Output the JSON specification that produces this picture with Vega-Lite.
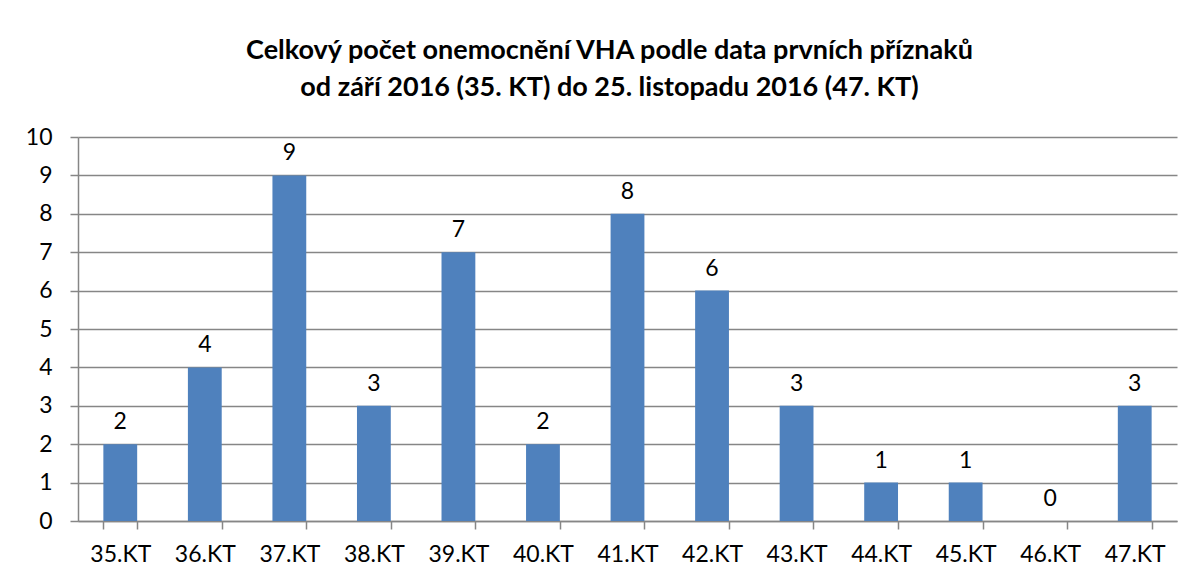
{
  "$schema": "https://vega.github.io/schema/vega-lite/v6.json",
  "autosize": "none",
  "width": 1099,
  "height": 384,
  "padding": {"left": 78, "top": 137, "right": 17, "bottom": 59},
  "background": "white",
  "title": {
    "text": ["Celkový počet onemocnění VHA podle data prvních příznaků", "od září 2016 (35. KT) do 25. listopadu 2016 (47. KT)"],
    "font": "Lato",
    "fontSize": 27,
    "fontWeight": "bold",
    "color": "#000000",
    "anchor": "middle",
    "lineHeight": 37,
    "offset": 24,
    "dx": -18
  },
  "config": {
    "view": {"stroke": null},
    "font": "Lato"
  },
  "data": {
    "values": [
      {"week": "35.KT", "count": 2},
      {"week": "36.KT", "count": 4},
      {"week": "37.KT", "count": 9},
      {"week": "38.KT", "count": 3},
      {"week": "39.KT", "count": 7},
      {"week": "40.KT", "count": 2},
      {"week": "41.KT", "count": 8},
      {"week": "42.KT", "count": 6},
      {"week": "43.KT", "count": 3},
      {"week": "44.KT", "count": 1},
      {"week": "45.KT", "count": 1},
      {"week": "46.KT", "count": 0},
      {"week": "47.KT", "count": 3}
    ]
  },
  "encoding": {
    "x": {
      "field": "week",
      "type": "nominal",
      "sort": null,
      "scale": {"paddingInner": 0.6, "paddingOuter": 0.3},
      "axis": {
        "title": null,
        "labelAngle": 0,
        "labelFont": "Lato",
        "labelFontSize": 23,
        "labelColor": "#000000",
        "labelPadding": 14,
        "tickBand": "extent",
        "tickSize": 8,
        "tickColor": "#868686",
        "domainColor": "#868686",
        "domainWidth": 1.5,
        "tickWidth": 1.5
      }
    },
    "y": {
      "field": "count",
      "type": "quantitative",
      "scale": {"domain": [0, 10], "nice": false},
      "axis": {
        "title": null,
        "values": [0, 1, 2, 3, 4, 5, 6, 7, 8, 9, 10],
        "labelFont": "Lato",
        "labelFontSize": 23,
        "labelColor": "#000000",
        "labelPadding": 18,
        "tickSize": 8,
        "tickColor": "#868686",
        "tickWidth": 1.5,
        "domainColor": "#868686",
        "domainWidth": 1.5,
        "grid": true,
        "gridColor": "#868686",
        "gridWidth": 1.5
      }
    }
  },
  "layer": [
    {
      "mark": {"type": "bar", "color": "#4F81BD"}
    },
    {
      "mark": {"type": "text", "baseline": "bottom", "dy": -10, "fontSize": 23, "font": "Lato", "color": "#000000"},
      "encoding": {"text": {"field": "count", "type": "quantitative"}}
    }
  ]
}
